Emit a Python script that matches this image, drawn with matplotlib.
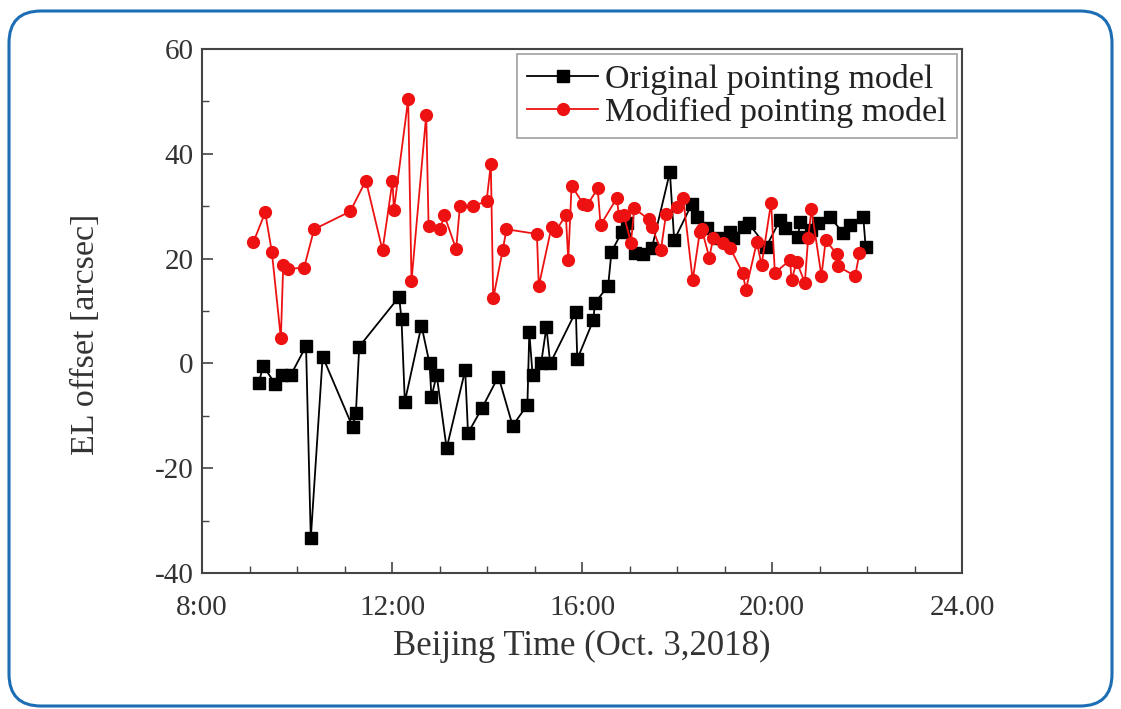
import matplotlib
matplotlib.use("Agg")
import matplotlib.pyplot as plt
from matplotlib.patches import FancyBboxPatch
from matplotlib.transforms import IdentityTransform
from matplotlib.ticker import MultipleLocator, FixedLocator

# Beijing time in hours, EL offset in arcsec
orig_time = [9.19, 9.29, 9.54, 9.68, 9.87, 10.19, 10.29, 10.54, 11.17, 11.24,
             11.31, 12.15, 12.20, 12.27, 12.62, 12.79, 12.83, 12.94, 13.15, 13.54,
             13.60, 13.89, 14.24, 14.54, 14.85, 14.89, 14.96, 15.14, 15.25, 15.33,
             15.87, 15.90, 16.24, 16.27, 16.55, 16.62, 16.84, 16.95, 17.12, 17.29,
             17.47, 17.85, 17.94, 18.31, 18.41, 18.64, 18.85, 19.12, 19.18, 19.40,
             19.51, 19.88, 20.17, 20.27, 20.55, 20.59, 20.83, 20.97, 21.22, 21.50,
             21.64, 21.92, 21.97]
orig_el = [-3.8, -0.5, -3.9, -2.2, -2.2, 3.3, -33.4, 1.3, -12.1, -9.4,
           3.2, 12.7, 8.4, -7.3, 7.2, 0.0, -6.4, -2.2, -16.2, -1.3,
           -13.3, -8.6, -2.5, -11.9, -7.9, 5.9, -2.2, 0.1, 6.9, 0.0,
           9.9, 0.8, 8.3, 11.5, 14.8, 21.3, 25.1, 26.7, 21.0, 20.9,
           22.0, 36.5, 23.5, 30.4, 28.0, 25.8, 24.0, 25.1, 23.9, 26.1,
           26.7, 22.3, 27.4, 25.8, 24.2, 27.0, 25.5, 26.7, 28.0, 24.8,
           26.4, 28.0, 22.3]

mod_time = [9.08, 9.33, 9.47, 9.66, 9.71, 9.82, 10.15, 10.36, 11.12, 11.45,
            11.80, 12.01, 12.04, 12.34, 12.41, 12.72, 12.77, 13.01, 13.10, 13.35,
            13.43, 13.71, 13.99, 14.08, 14.13, 14.33, 14.41, 15.05, 15.09, 15.36,
            15.45, 15.66, 15.71, 15.78, 16.03, 16.11, 16.33, 16.39, 16.73, 16.78,
            16.88, 17.03, 17.10, 17.40, 17.47, 17.66, 17.77, 17.99, 18.13, 18.33,
            18.48, 18.52, 18.68, 18.76, 18.97, 19.12, 19.38, 19.45, 19.68, 19.78,
            19.98, 20.06, 20.38, 20.41, 20.52, 20.69, 20.76, 20.83, 21.04, 21.13,
            21.36, 21.39, 21.75, 21.84]
mod_el = [23.1, 28.8, 21.3, 4.8, 18.8, 18.0, 18.3, 25.6, 29.0, 34.9,
          21.6, 34.8, 29.3, 50.4, 15.7, 47.4, 26.3, 25.6, 28.3, 21.8,
          30.1, 30.1, 30.9, 38.0, 12.4, 21.6, 25.6, 24.7, 14.8, 26.1,
          25.3, 28.3, 19.7, 33.9, 30.4, 30.2, 33.4, 26.4, 31.5, 28.1,
          28.3, 23.0, 29.6, 27.5, 26.1, 21.6, 28.6, 29.9, 31.5, 15.9,
          25.1, 25.6, 20.2, 23.9, 22.9, 22.0, 17.3, 14.1, 23.1, 18.8,
          30.7, 17.3, 19.7, 15.9, 19.4, 15.4, 23.9, 29.4, 16.7, 23.5,
          20.9, 18.5, 16.7, 21.0]

x_ticks = [8, 12, 16, 20, 24]
x_ticklabels = ["8:00", "12:00", "16:00", "20:00", "24.00"]

plt.rcParams['font.family'] = ['Liberation Serif', 'DejaVu Serif']
plt.rcParams['axes.unicode_minus'] = False

fig = plt.figure(figsize=(11.21, 7.09), dpi=100)
ax = fig.add_axes([0.1802, 0.1918, 0.678, 0.7391])

ax.plot(orig_time, orig_el, color='black', lw=1.3, marker='s', markersize=8,
        label='Original pointing model')
ax.plot(mod_time, mod_el, color='#ee1111', lw=1.3, marker='o', markersize=8.5,
        label='Modified pointing model')

ax.set_xlim(8, 24)
ax.set_ylim(-40, 60)
ax.xaxis.set_major_locator(FixedLocator(x_ticks))
ax.set_xticklabels(x_ticklabels)
ax.xaxis.set_minor_locator(MultipleLocator(1))
ax.yaxis.set_major_locator(MultipleLocator(20))
ax.yaxis.set_minor_locator(MultipleLocator(10))
ax.tick_params(which='both', direction='in', top=False, right=False,
               labelsize=21, labelcolor='#333333', color='#444444')
ax.tick_params(which='major', length=8, width=1.2, pad=6)
ax.tick_params(which='minor', length=5, width=1.0)
ax.tick_params(axis='x', which='major', pad=16)
for s in ax.spines.values():
    s.set_color('#444444')
    s.set_linewidth(1.5)

ax.set_xlabel('Beijing Time (Oct. 3,2018)', fontsize=25, color='#333333', labelpad=6)
ax.set_ylabel('EL offset [arcsec]', fontsize=24.5, color='#333333')
ax.yaxis.set_label_coords(-0.133, 0.455)

leg = ax.legend(loc='upper right', fontsize=24.5, frameon=True, fancybox=False,
                borderaxespad=0.15, handlelength=2.1, handletextpad=0.2,
                borderpad=0.3, labelspacing=0.05)
leg.get_frame().set_edgecolor('#888888')
leg.get_frame().set_linewidth(1.2)
for t in leg.get_texts():
    t.set_color('#222222')

# rounded blue frame around the whole picture
border = FancyBboxPatch((9, 3), 1103, 695, boxstyle='round,pad=0,rounding_size=32',
                        transform=IdentityTransform(), fill=False,
                        edgecolor='#1c6db3', linewidth=2.2)
fig.patches.append(border)

fig.savefig('out.png', dpi=100)
